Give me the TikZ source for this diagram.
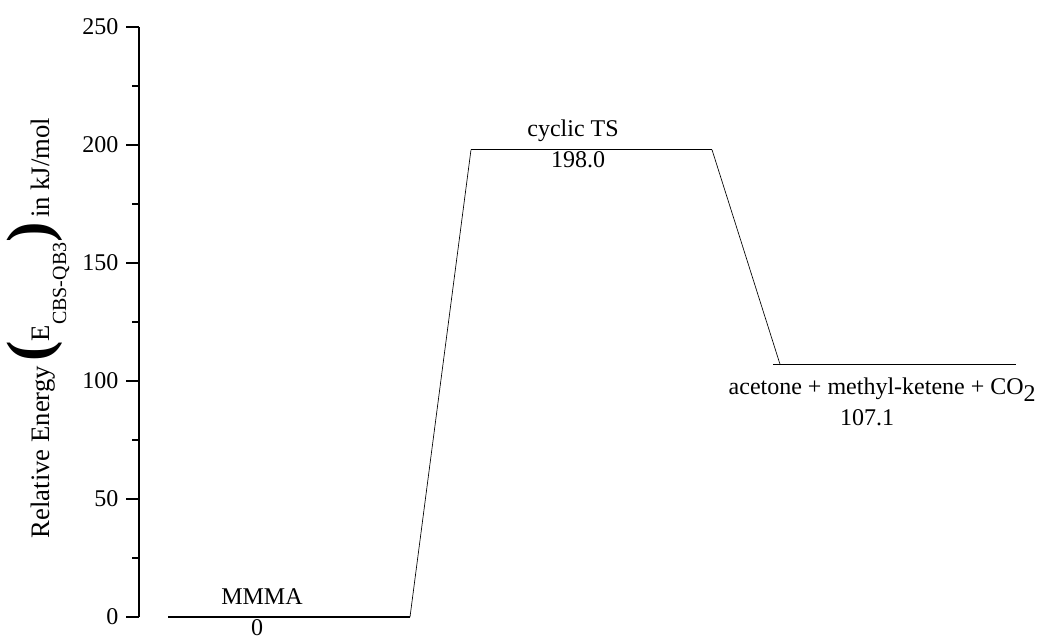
\documentclass[tikz,border=0pt]{standalone}
\usepackage{fontspec}
\setmainfont{Liberation Serif}
\tikzset{
  level/.style={line width=1.1pt},
  link/.style={line width=0.5pt},
  axisline/.style={line width=1.5pt}
}
\newcommand{\bigparen}[1]{{\fontsize{46}{46}\selectfont\bfseries #1}}
\begin{document}
\begin{tikzpicture}[x=0.75pt, y=1.77pt, font=\fontsize{18}{21}\selectfont]
    \useasboundingbox (-139,-9.32) rectangle (900,261.44);

    \draw[axisline] (0,0) -- (0,250);
    \foreach \v in {0,50,...,250}
        \draw[axisline] (0,\v) -- (-13,\v) node[left, inner sep=5pt] {\v};
    \foreach \v in {25,75,...,225}
        \draw[axisline] (0,\v) -- (-7,\v);

    \node[rotate=90, font=\fontsize{20}{24}\selectfont] (ylabel) at (-101,122.5)
        {Relative Energy\,\bigparen{(}E\raisebox{-1.4ex}{\fontsize{15}{15}\selectfont CBS-QB3}\bigparen{)}\,in kJ/mol};

    % energy levels
    \coordinate (mmmaL) at (29,0);     \coordinate (mmmaR) at (271,0);
    \coordinate (tsL) at (332,198);    \coordinate (tsR) at (573,198);
    \coordinate (prodL) at (634,107.1); \coordinate (prodR) at (877,107.1);
    \coordinate (prodIn) at (641,107.1);

    \draw[level] (mmmaL) -- (mmmaR);
    \draw[level] (tsL) -- (tsR);
    \draw[level] (prodL) -- (prodR);

    \draw[link] (mmmaR) -- (tsL);
    \draw[link] (tsR) -- (prodIn);

    \node[anchor=base] (lblMMMA) at (123,5.1) {MMMA};
    \node[anchor=base] (valMMMA) at (118,-7.9) {0};
    \node[anchor=base] (lblTS) at (434,203.4) {cyclic TS};
    \node[anchor=base] (valTS) at (439,190.3) {198.0};
    \node[anchor=base west] (lblProd) at (585,94.1) {acetone + methyl-ketene + CO\raisebox{-0.6ex}{2}};
    \node[anchor=base] (valProd) at (728,81) {107.1};
\end{tikzpicture}
\end{document}
